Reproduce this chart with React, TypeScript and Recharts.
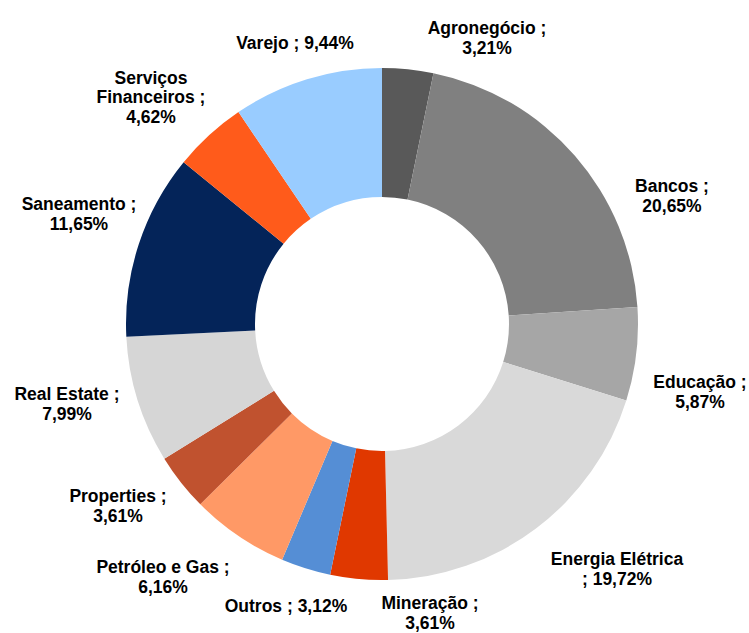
import React from "react";
import { PieChart, Pie, Cell } from "recharts";

const sectors = [
  "Agronegócio",
  "Bancos",
  "Educação",
  "Energia Elétrica",
  "Mineração",
  "Outros",
  "Petróleo e Gas",
  "Properties",
  "Real Estate",
  "Saneamento",
  "Serviços Financeiros",
  "Varejo",
];

const shares = [3.21, 20.65, 5.87, 19.72, 3.61, 3.12, 6.16, 3.61, 7.99, 11.65, 4.62, 9.44];

const colors = [
  "#595959",
  "#808080",
  "#a6a6a6",
  "#d9d9d9",
  "#e03800",
  "#558ed5",
  "#ff9966",
  "#c0522f",
  "#d6d6d6",
  "#042459",
  "#ff5b1b",
  "#99ccff",
];

// how each label is broken into lines
const labelLines: string[][] = [
  ["Agronegócio ;", "{v}"],
  ["Bancos ;", "{v}"],
  ["Educação ;", "{v}"],
  ["Energia Elétrica", "; {v}"],
  ["Mineração ;", "{v}"],
  ["Outros ; {v}"],
  ["Petróleo e Gas ;", "{v}"],
  ["Properties ;", "{v}"],
  ["Real Estate ;", "{v}"],
  ["Saneamento ;", "{v}"],
  ["Serviços", "Financeiros ;", "{v}"],
  ["Varejo ; {v}"],
];

// label centres, relative to the pie centre (Excel "best fit" placement)
const labelOffsets: [number, number][] = [
  [105, -286],
  [290, -128],
  [318, 68],
  [235, 245],
  [48, 289],
  [-96, 282],
  [-219, 253],
  [-264, 182],
  [-315, 80],
  [-303, -110],
  [-231, -227],
  [-87, -281],
];

const data = sectors.map((name, i) => ({ name, value: shares[i] }));

const fmt = (v: number) => v.toFixed(2).replace(".", ",") + "%";

const LINE_H = 19.5;

const renderLabel = (props: any) => {
  const { cx, cy, index, value } = props;
  const lines = labelLines[index].map((l) => l.replace("{v}", fmt(value)));
  const [dx, dy] = labelOffsets[index];
  const x = cx + dx;
  const y0 = cy + dy - ((lines.length - 1) * LINE_H) / 2;
  return (
    <text
      key={`lbl-${index}`}
      x={x}
      y={y0}
      textAnchor="middle"
      dominantBaseline="central"
      fontFamily="'Liberation Sans', Arial, sans-serif"
      fontWeight="bold"
      fontSize={17.5}
      fill="#000"
    >
      {lines.map((l, i) => (
        <tspan key={i} x={x} y={y0 + i * LINE_H}>
          {l}
        </tspan>
      ))}
    </text>
  );
};

export default function App() {
  return (
    <div
      style={{
        position: "absolute",
        left: 0,
        top: 0,
        width: 749,
        height: 633,
        background: "#fff",
      }}
    >
      <PieChart
        width={749}
        height={633}
        margin={{ top: 0, right: 0, bottom: 0, left: 0 }}
      >
        <Pie
          data={data}
          dataKey="value"
          nameKey="name"
          cx={382}
          cy={324}
          innerRadius={127}
          outerRadius={256}
          startAngle={90}
          endAngle={-270}
          stroke="none"
          label={renderLabel}
          labelLine={false}
          isAnimationActive={false}
        >
          {data.map((d, i) => (
            <Cell key={d.name} fill={colors[i]} />
          ))}
        </Pie>
      </PieChart>
    </div>
  );
}
